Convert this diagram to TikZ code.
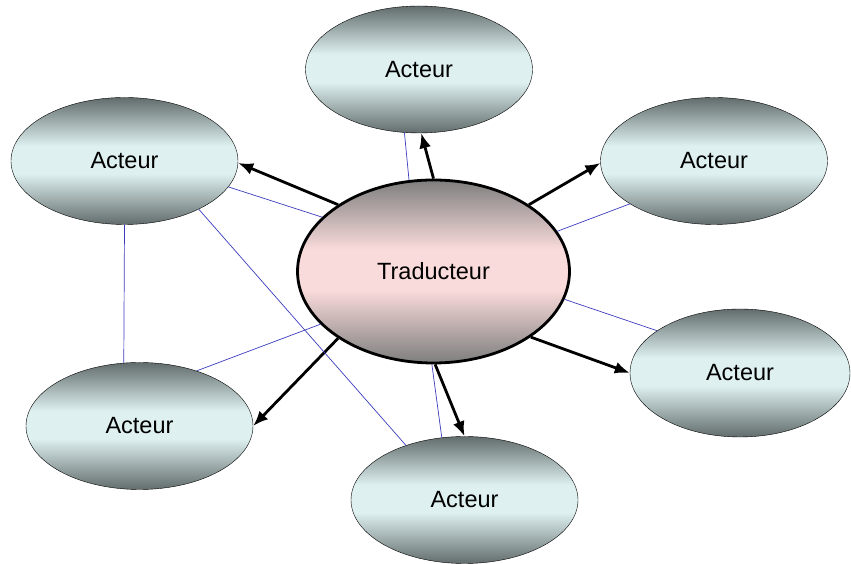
\documentclass[tikz,border=0pt]{standalone}
\usepackage{fontspec}
\setmainfont{Liberation Sans}
\usetikzlibrary{arrows.meta, shapes.geometric}
\definecolor{actordark}{RGB}{98,108,108}
\definecolor{actorlight}{RGB}{222,240,240}
\definecolor{transdark}{RGB}{126,126,126}
\definecolor{translight}{RGB}{250,219,219}
\definecolor{linkblue}{RGB}{60,60,190}
\pgfdeclareverticalshading{actorshade}{100bp}{color(0bp)=(actordark);
    color(25bp)=(actordark); color(45bp)=(actorlight); color(56bp)=(actorlight);
    color(75bp)=(actordark); color(100bp)=(actordark)}
\pgfdeclareverticalshading{transshade}{100bp}{color(0bp)=(transdark);
    color(25bp)=(transdark); color(45bp)=(translight); color(56bp)=(translight);
    color(75bp)=(transdark); color(100bp)=(transdark)}
\tikzstyle{actor} = [draw, ellipse, thin, inner sep=0pt, minimum width=227pt,
    minimum height=127pt, shading=actorshade,
    font=\fontsize{23.5}{28}\selectfont]
\tikzstyle{translator} = [draw, ellipse, line width=2.8pt, inner sep=0pt,
    minimum width=272pt, minimum height=183pt, shading=transshade,
    font=\fontsize{23.5}{28}\selectfont]
\tikzstyle{arrow} = [arrows=->, line width=2.8pt, black]
\tikzstyle{link} = [linkblue, line width=0.7pt]

\begin{document}
\begin{tikzpicture}[x=1pt, y=1pt, >={Latex[length=15pt, width=12pt]}]
  \useasboundingbox (0,0) rectangle (851,564);
  % Place the nodes
  \node [translator] (trad) at (433.5,292.5) {Traducteur};
  \node [actor] (top) at (419,494.5) {Acteur};
  \node [actor] (upleft) at (124.5,403) {Acteur};
  \node [actor] (upright) at (714,403) {Acteur};
  \node [actor, minimum width=220pt, minimum height=128pt] (lowright) at (740,191) {Acteur};
  \node [actor] (lowleft) at (139.5,138) {Acteur};
  \node [actor] (bottom) at (464.5,64) {Acteur};

  % Connect the nodes
  \draw [arrow] (trad.90) -- (top.272);
  \draw [arrow] (trad.145) -- (upleft.359);
  \draw [arrow] (trad.35) -- (upright.181);
  \draw [arrow] (trad.326) -- (lowright.180);
  \draw [arrow] (trad.215) -- (lowleft.0);
  \draw [arrow] (trad.271) -- (bottom.90);

  % Links between the actors
  \draw [link] (trad.105) -- (top.257);
  \draw [link] (trad.154) -- (upleft.346);
  \draw [link] (upleft.327) -- (bottom.137);
  \draw [link] (upleft.270) -- (lowleft.104);
  \draw [link] (trad.205) -- (lowleft.44);
  \draw [link] (trad.269) -- (bottom.110);
  \draw [link] (trad.18) -- (upright.207);
  \draw [link] (trad.348) -- (lowright.153);
\end{tikzpicture}
\end{document}
